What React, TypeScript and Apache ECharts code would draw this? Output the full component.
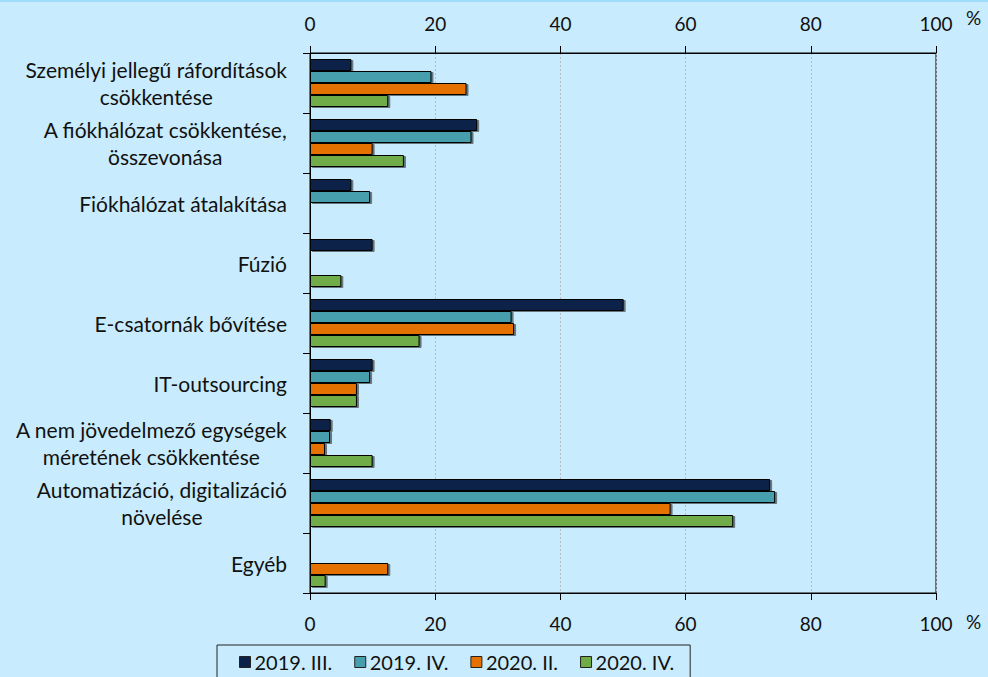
import React, { useEffect, useRef } from 'react';
import * as echarts from 'echarts';

const categories = [
  'Személyi jellegű ráfordítások\ncsökkentése',
  'A fiókhálózat csökkentése,\nösszevonása',
  'Fiókhálózat átalakítása',
  'Fúzió',
  'E-csatornák bővítése',
  'IT-outsourcing',
  'A nem jövedelmező egységek\nméretének csökkentése',
  'Automatizáció, digitalizáció\nnövelése',
  'Egyéb',
];

const seriesNames = ['2019. III.', '2019. IV.', '2020. II.', '2020. IV.'];
const s2019III = [6.6, 26.7, 6.6, 10.0, 50.1, 10.0, 3.3, 73.5, null];
const s2019IV = [19.4, 25.8, 9.6, null, 32.2, 9.6, 3.2, 74.3, null];
const s2020II = [25.0, 10.0, null, null, 32.6, 7.5, 2.4, 57.6, 12.5];
const s2020IV = [12.5, 15.0, null, 5.0, 17.5, 7.5, 10.0, 67.6, 2.5];
const seriesData = [s2019III, s2019IV, s2020II, s2020IV];
const colors = ['#0c2149', '#479fae', '#e57200', '#70ac46'];

const xMin = 0;
const xMax = 100;
const xInterval = 20;
const unitLabel = '%';

const FONT = 'Lato, "Open Sans", sans-serif';
const TEXT = '#111111';

export default function App() {
  const ref = useRef<HTMLDivElement>(null);

  useEffect(() => {
    if (!ref.current) return;
    const chart = echarts.init(ref.current, undefined, { renderer: 'svg' });

    const xAxisBase = (position: 'top' | 'bottom', margin: number, split: boolean) => ({
      type: 'value',
      position,
      min: xMin,
      max: xMax,
      interval: xInterval,
      axisLine: { show: true, lineStyle: { color: '#000', width: 1 } },
      axisTick: { show: true, inside: false, length: 7, lineStyle: { color: '#000', width: 1 } },
      axisLabel: { show: true, margin, fontSize: 19, fontFamily: FONT, color: TEXT },
      splitLine: {
        show: split,
        lineStyle: { color: '#b8bcc0', type: [2, 2], width: 1 },
      },
    });

    const option: any = {
      animation: false,
      backgroundColor: '#c8ecfd',
      textStyle: { fontFamily: FONT },
      grid: {
        left: 310,
        right: 52,
        top: 53,
        height: 540,
        show: true,
        borderColor: '#000',
        borderWidth: 1,
        backgroundColor: 'transparent',
        containLabel: false,
      },
      xAxis: [xAxisBase('top', 20, true), xAxisBase('bottom', 21, false)],
      yAxis: {
        type: 'category',
        data: categories,
        inverse: true,
        axisLine: { show: true, lineStyle: { color: '#000', width: 1 } },
        axisTick: { show: true, inside: false, length: 7, lineStyle: { color: '#000', width: 1 } },
        axisLabel: {
          margin: 23,
          align: 'right',
          formatter: (v: string) => v.split('\n').map((l) => '{c|' + l + '}').join('\n'),
          rich: {
            c: { align: 'center', fontSize: 21, lineHeight: 27, fontFamily: FONT, color: TEXT },
          },
        },
        splitLine: { show: false },
      },
      legend: {
        show: true,
        left: 217,
        top: 645,
        orient: 'horizontal',
        icon: 'rect',
        itemWidth: 11,
        itemHeight: 11,
        itemGap: 22,
        padding: [7, 16, 14, 22],
        borderColor: '#222',
        borderWidth: 1,
        backgroundColor: 'transparent',
        data: seriesNames,
        itemStyle: { borderColor: '#222', borderWidth: 1 },
        textStyle: { fontSize: 20, fontFamily: FONT, color: TEXT, padding: [0, 0, 0, -1] },
      },
      graphic: [
        { type: 'rect', left: 0, top: 0, shape: { width: 988, height: 2 }, style: { fill: '#9edcf9' } },
        { type: 'text', left: 966, top: 8, style: { text: unitLabel, fontSize: 19, fontFamily: FONT, fill: TEXT } },
        { type: 'text', left: 966, top: 612, style: { text: unitLabel, fontSize: 19, fontFamily: FONT, fill: TEXT } },
      ],
      series: seriesNames.map((name, i) => ({
        name,
        type: 'bar',
        xAxisIndex: 0,
        data: seriesData[i],
        barGap: '0%',
        barCategoryGap: '20%',
        itemStyle: {
          color: colors[i],
          borderColor: '#000',
          borderWidth: 1,
          shadowColor: 'rgba(0,0,0,0.5)',
          shadowBlur: 1,
          shadowOffsetX: 2,
          shadowOffsetY: 1,
        },
      })),
    };

    chart.setOption(option);
    return () => chart.dispose();
  }, []);

  return (
    <div
      ref={ref}
      style={{ position: 'absolute', left: 0, top: 0, width: 988, height: 677 }}
    />
  );
}
